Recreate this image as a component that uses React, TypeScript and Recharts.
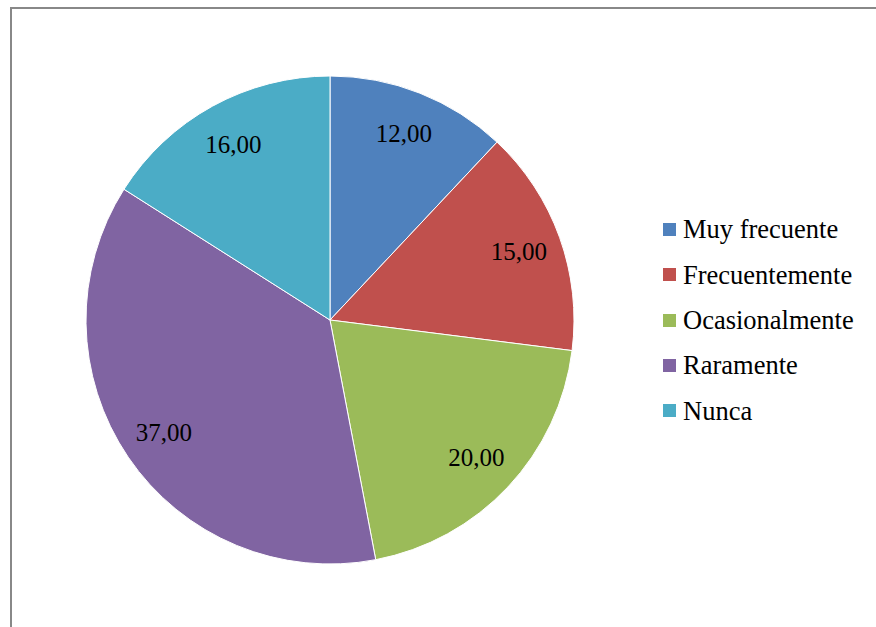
import React from 'react';
import { PieChart, Pie, Cell, Legend } from 'recharts';

const categories = ['Muy frecuente', 'Frecuentemente', 'Ocasionalmente', 'Raramente', 'Nunca'];
const values = [12, 15, 20, 37, 16];
const colors = ['#4F81BD', '#C0504D', '#9BBB59', '#8064A2', '#4BACC6'];

const data = categories.map((name, i) => ({ name, value: values[i] }));

const RADIAN = Math.PI / 180;
const FONT = '"Liberation Serif", "Times New Roman", serif';

const renderLabel = (props: any) => {
  const { cx, cy, midAngle, outerRadius, value } = props;
  const r = outerRadius * 0.823;
  const x = cx + r * Math.cos(-midAngle * RADIAN);
  const y = cy + r * Math.sin(-midAngle * RADIAN);
  return (
    <text
      x={x}
      y={y}
      textAnchor="middle"
      dominantBaseline="central"
      fill="#000"
      style={{ fontSize: 25, fontFamily: FONT }}
    >
      {value.toFixed(2).replace('.', ',')}
    </text>
  );
};

const renderLegend = () => (
  <div style={{ fontFamily: FONT, fontSize: 26.5, color: '#000' }}>
    {categories.map((name, i) => (
      <div key={name} style={{ display: 'flex', alignItems: 'center', height: 45.3 }}>
        <span
          style={{ width: 13, height: 13, background: colors[i], display: 'inline-block', marginRight: 7 }}
        />
        <span style={{ lineHeight: 1 }}>{name}</span>
      </div>
    ))}
  </div>
);

export default function App() {
  return (
    <div style={{ position: 'fixed', left: 0, top: 0, width: 876, height: 627, background: '#fff', overflow: 'hidden' }}>
      <div
        style={{
          position: 'absolute',
          left: 10,
          top: 7,
          width: 900,
          height: 700,
          borderLeft: '2px solid #888',
          borderTop: '2px solid #888',
        }}
      />
      <div style={{ position: 'absolute', left: 0, top: 0 }}>
        <PieChart width={876} height={627} margin={{ top: 0, right: 0, bottom: 0, left: 0 }}>
          <Pie
            data={data}
            dataKey="value"
            nameKey="name"
            cx={330}
            cy={320}
            outerRadius={244}
            startAngle={90}
            endAngle={-270}
            stroke="#fff"
            strokeWidth={1}
            label={renderLabel}
            labelLine={false}
            isAnimationActive={false}
          >
            {data.map((d, i) => (
              <Cell key={d.name} fill={colors[i]} />
            ))}
          </Pie>
          <Legend
            content={renderLegend}
            layout="vertical"
            wrapperStyle={{ position: 'absolute', left: 663, top: 207, width: 212 }}
          />
        </PieChart>
      </div>
    </div>
  );
}
